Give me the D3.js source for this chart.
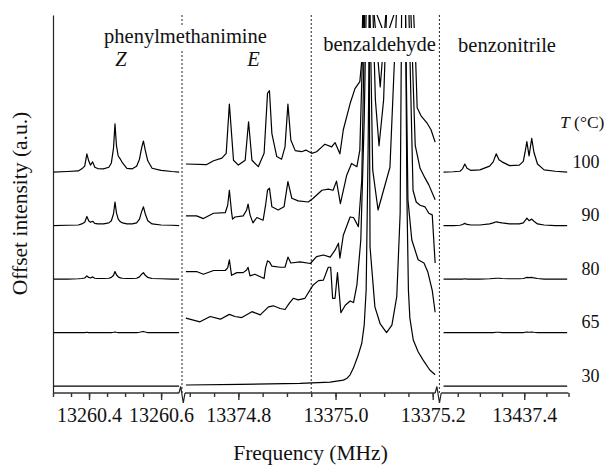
<!DOCTYPE html>
<html><head><meta charset="utf-8">
<script src="https://cdn.jsdelivr.net/npm/d3@7"></script>
<style>
html,body{margin:0;padding:0;background:#fff;}
svg{display:block;}
svg text{font-family:"Liberation Serif","DejaVu Serif","Times New Roman",serif;}
</style></head><body>
<svg id="chart" width="605" height="467" font-family="Liberation Serif, DejaVu Serif, serif"></svg>
<script>
// ---------------- DATA ----------------
const temperatures = [30, 65, 80, 90, 100];
const offsets = [0, 1, 2, 3, 4];

// Segment 1: phenylmethanimine Z (frequency grid, MHz)
const zFreq = [13260.300,13260.340,13260.370,13260.380,13260.388,13260.394,13260.399,13260.404,13260.410,13260.416,13260.424,13260.440,13260.455,13260.462,13260.468,13260.472,13260.476,13260.481,13260.487,13260.493,13260.505,13260.520,13260.532,13260.540,13260.546,13260.551,13260.556,13260.563,13260.575,13260.600,13260.630,13260.650];
const z100 = [0,0.01,0.02,0.06,0.11,0.34,0.21,0.13,0.19,0.09,0.065,0.06,0.09,0.17,0.45,0.90,0.50,0.30,0.24,0.17,0.07,0.06,0.11,0.24,0.45,0.58,0.41,0.21,0.07,0.03,0.01,0];
const z90  = [0,0.005,0.01,0.03,0.06,0.17,0.09,0.06,0.08,0.04,0.03,0.03,0.05,0.09,0.22,0.44,0.24,0.12,0.07,0.05,0.03,0.03,0.05,0.12,0.26,0.35,0.22,0.09,0.03,0.01,0.005,0];
const z80  = [0,0,0.005,0.01,0.02,0.06,0.03,0.02,0.04,0.015,0.01,0.01,0.015,0.03,0.07,0.14,0.08,0.04,0.02,0.015,0.01,0.01,0.015,0.04,0.09,0.12,0.07,0.03,0.01,0.005,0,0];
const z65  = [0,0,0,0,0,0.005,0,0,0,0,0,0,0,0,0.005,0.01,0.005,0,0,0,0,0,0,0.005,0.015,0.02,0.01,0,0,0,0,0];
const z30  = [0,0,0,0,0,0,0,0,0,0,0,0,0,0,0,0,0,0,0,0,0,0,0,0,0,0,0,0,0,0,0,0];

// Segment 2: phenylmethanimine E + benzaldehyde, [frequency, intensity]
const seg2_100 = [[13374.692,0.15],[13374.735,0.14],[13374.749,0.21],[13374.766,0.26],[13374.775,0.35],[13374.7815,1.27],[13374.790,0.22],[13374.800,0.13],[13374.814,0.22],[13374.821,0.94],[13374.828,0.22],[13374.841,0.10],[13374.853,0.35],[13374.860,1.47],[13374.864,1.52],[13374.869,0.72],[13374.879,0.29],[13374.889,0.24],[13374.896,0.47],[13374.902,1.27],[13374.908,0.60],[13374.917,0.40],[13374.930,0.38],[13374.939,0.41],[13374.951,0.35],[13374.961,0.38],[13374.972,0.47],[13374.978,0.52],[13374.992,0.47],[13374.999,0.55],[13375.009,0.34],[13375.016,0.79],[13375.030,1.28],[13375.040,1.56],[13375.050,1.69],[13375.054,2.09],[13375.056,3.0],[13375.063,9],[13375.079,3.0],[13375.092,1.59],[13375.104,3.0],[13375.131,9],[13375.1605,3.0],[13375.165,2.06],[13375.168,1.20],[13375.176,1.05],[13375.188,0.92],[13375.1965,0.79],[13375.205,0.56]];
const seg2_90 = [[13374.692,0.18],[13374.714,0.18],[13374.728,0.13],[13374.749,0.23],[13374.773,0.24],[13374.778,0.38],[13374.7815,0.66],[13374.786,0.25],[13374.788,0.12],[13374.793,0.16],[13374.810,0.18],[13374.817,0.29],[13374.820,0.40],[13374.824,0.20],[13374.830,0.05],[13374.838,0.15],[13374.851,0.10],[13374.856,0.38],[13374.860,0.66],[13374.864,0.70],[13374.869,0.35],[13374.882,0.29],[13374.894,0.35],[13374.902,0.82],[13374.910,0.51],[13374.923,0.46],[13374.944,0.44],[13374.954,0.51],[13374.972,0.66],[13374.985,0.68],[13374.995,0.66],[13375.002,0.83],[13375.010,0.41],[13375.023,0.94],[13375.033,1.16],[13375.044,1.10],[13375.050,1.41],[13375.058,4.0],[13375.064,9],[13375.077,4.0],[13375.082,2.35],[13375.0895,1.49],[13375.099,2.35],[13375.105,4.0],[13375.130,9],[13375.155,4.0],[13375.164,1.50],[13375.174,1.07],[13375.184,0.89],[13375.192,0.76],[13375.205,0.48]];
const seg2_80 = [[13374.692,0.14],[13374.714,0.14],[13374.728,0.09],[13374.749,0.16],[13374.773,0.16],[13374.778,0.21],[13374.7815,0.36],[13374.786,0.07],[13374.797,0.12],[13374.810,0.12],[13374.817,0.17],[13374.820,0.22],[13374.824,0.06],[13374.834,0.09],[13374.853,0.01],[13374.856,0.21],[13374.860,0.34],[13374.864,0.32],[13374.869,0.24],[13374.886,0.22],[13374.896,0.22],[13374.902,0.41],[13374.908,0.30],[13374.927,0.32],[13374.948,0.29],[13374.961,0.42],[13374.975,0.45],[13374.989,0.41],[13374.999,0.54],[13375.006,0.67],[13375.009,0.39],[13375.016,0.82],[13375.030,1.16],[13375.037,1.15],[13375.047,0.98],[13375.054,1.85],[13375.060,5.0],[13375.065,9],[13375.071,5.0],[13375.0765,2.04],[13375.0875,1.29],[13375.112,2.09],[13375.1255,5.0],[13375.137,9],[13375.151,5.0],[13375.1595,1.66],[13375.166,1.44],[13375.174,1.38],[13375.184,1.35],[13375.192,1.23],[13375.199,1.20],[13375.205,0.30]];
const seg2_65 = [[13374.692,0.27],[13374.721,0.20],[13374.742,0.30],[13374.763,0.25],[13374.7815,0.34],[13374.793,0.30],[13374.807,0.28],[13374.828,0.39],[13374.845,0.33],[13374.862,0.48],[13374.872,0.50],[13374.886,0.45],[13374.896,0.43],[13374.905,0.55],[13374.913,0.64],[13374.923,0.61],[13374.937,0.64],[13374.954,0.89],[13374.965,0.97],[13374.975,0.98],[13374.985,1.22],[13374.990,1.22],[13374.994,0.64],[13374.999,0.64],[13375.004,1.12],[13375.011,0.37],[13375.020,0.51],[13375.030,0.59],[13375.037,0.56],[13375.044,0.89],[13375.052,1.73],[13375.059,3.97],[13375.063,6.0],[13375.066,9],[13375.069,6.0],[13375.071,1.60],[13375.081,0.48],[13375.092,0.16],[13375.105,0.0],[13375.116,0.14],[13375.126,0.67],[13375.133,2.23],[13375.136,6.0],[13375.140,9],[13375.144,6.0],[13375.149,2.48],[13375.157,1.73],[13375.170,1.36],[13375.182,1.30],[13375.190,1.13],[13375.199,0.79],[13375.205,0.38]];
const seg2_30 = [[13374.692,0.02],[13374.803,0.03],[13374.927,0.05],[13374.989,0.075],[13375.016,0.11],[13375.023,0.14],[13375.030,0.21],[13375.037,0.34],[13375.046,0.56],[13375.054,0.80],[13375.059,1.14],[13375.063,1.79],[13375.067,4.41],[13375.070,7.03],[13375.075,9],[13375.083,6.99],[13375.104,6.50],[13375.122,6.99],[13375.1345,9],[13375.144,7.03],[13375.147,3.48],[13375.150,1.79],[13375.153,1.27],[13375.160,0.86],[13375.170,0.64],[13375.180,0.49],[13375.194,0.30],[13375.205,0.21]];

// Segment 3: benzonitrile
const nFreq = [13437.218,13437.240,13437.255,13437.261,13437.266,13437.271,13437.280,13437.300,13437.322,13437.330,13437.337,13437.343,13437.350,13437.367,13437.389,13437.398,13437.402,13437.406,13437.411,13437.417,13437.422,13437.430,13437.445,13437.470,13437.497];
const n100 = [0,0.005,0.015,0.06,0.15,0.07,0.03,0.04,0.11,0.19,0.34,0.23,0.19,0.12,0.13,0.20,0.37,0.57,0.30,0.63,0.37,0.15,0.04,0.015,0];
const n90  = [0,0,0.005,0.02,0.04,0.02,0.01,0.01,0.03,0.05,0.07,0.06,0.05,0.03,0.03,0.05,0.09,0.14,0.09,0.12,0.08,0.03,0.01,0,0];
const n80  = [0,0,0,0,0.005,0,0,0,0.005,0.01,0.015,0.015,0.01,0.005,0.005,0.01,0.02,0.03,0.025,0.03,0.02,0.01,0,0,0];
const n65  = [0,0,0,0,0,0,0,0,0,0,0.005,0.005,0,0,0,0,0.005,0.01,0.005,0.01,0.005,0,0,0,0];
const n30  = [0,0,0,0,0,0,0,0,0,0,0,0,0,0,0,0,0,0,0,0,0,0,0,0,0];

// Axis ticks
const seg1Minor = [13260.30,13260.35,13260.40,13260.45,13260.50,13260.55,13260.60];
const seg1Major = [13260.4,13260.6];
const seg2Minor = [13374.70,13374.75,13374.80,13374.85,13374.90,13374.95,13375.00,13375.05,13375.10,13375.15,13375.20];
const seg2Major = [13374.8,13375.0,13375.2];
const seg3Minor = [13437.25,13437.30,13437.35,13437.40,13437.45,13437.50];
const seg3Major = [13437.4];
const regionDivider = 13374.95;

// ---------------- CHART ----------------
(function () {
const FONT = "Liberation Serif, DejaVu Serif, serif";
const svg = d3.select("#chart");
const topY = 15, axisY = 393;
const x1 = d3.scaleLinear().domain([13260.3, 13260.658]).range([53, 182]);
const x2 = d3.scaleLinear().domain([13374.684, 13375.215]).range([182, 440]);
const x3 = d3.scaleLinear().domain([13437.21, 13437.5]).range([440, 568.5]);
const y = d3.scaleLinear().domain([-0.13, 6.935]).range([axisY, topY]);

svg.append("defs").append("clipPath").attr("id","plotclip")
  .append("rect").attr("x",53).attr("y",topY).attr("width",552).attr("height",axisY-topY);

// dotted dividers
const divXs = [x1.range()[1], x2(regionDivider), x2.range()[1] - 0.6];
svg.append("g").selectAll("line").data(divXs).join("line")
  .attr("x1", d=>d).attr("x2", d=>d).attr("y1", topY).attr("y2", axisY)
  .attr("stroke","#222").attr("stroke-width",1).attr("stroke-dasharray","2,2");

const zSeries = [z30, z65, z80, z90, z100];
const nSeries = [n30, n65, n80, n90, n100];
const eSeries = [seg2_30, seg2_65, seg2_80, seg2_90, seg2_100];

const traces = svg.append("g").attr("clip-path","url(#plotclip)")
  .attr("fill","none").attr("stroke","#000").attr("stroke-width",1.2).attr("stroke-linejoin","round");

temperatures.forEach((t, i) => {
  const off = offsets[i];
  const l1 = d3.line().x(d=>x1(d[0])).y(d=>y(d[1]+off));
  const l2 = d3.line().x(d=>x2(d[0])).y(d=>y(d[1]+off));
  const l3 = d3.line().x(d=>x3(d[0])).y(d=>y(d[1]+off));
  traces.append("path").attr("d", l1(zFreq.map((f,k)=>[f, zSeries[i][k]])));
  traces.append("path").attr("d", l2(eSeries[i]));
  traces.append("path").attr("d", l3(nFreq.map((f,k)=>[f, nSeries[i][k]])));
});

// label backgrounds
svg.append("rect").attr("x",100).attr("y",26).attr("width",172).attr("height",24).attr("fill","#fff");
svg.append("rect").attr("x",320).attr("y",28).attr("width",117.5).attr("height",34).attr("fill","#fff");

// region labels
const lab = svg.append("g").attr("fill","#111").attr("text-anchor","middle").attr("font-family",FONT);
lab.append("text").attr("x",185.5).attr("y",43).attr("font-size",20.5).text("phenylmethanimine");
lab.append("text").attr("x",121).attr("y",66).attr("font-size",20.5).attr("font-style","italic").text("Z");
lab.append("text").attr("x",253.5).attr("y",66).attr("font-size",20.5).attr("font-style","italic").text("E");
lab.append("text").attr("x",379.5).attr("y",51).attr("font-size",20.5).text("benzaldehyde");
lab.append("text").attr("x",507).attr("y",51.5).attr("font-size",20.5).text("benzonitrile");

// temperature labels
const tl = svg.append("text").attr("x",560).attr("y",127.5).attr("font-size",17.5).attr("fill","#111").attr("font-family",FONT);
tl.append("tspan").attr("font-style","italic").text("T");
tl.append("tspan").text(" (°C)");
svg.append("g").attr("font-family",FONT).selectAll("text").data(temperatures).join("text")
  .attr("x",599.5).attr("y",(d,i)=>y(offsets[i]) - 4.5)
  .attr("text-anchor","end").attr("font-size",18).attr("fill","#111")
  .text(d=>d);

// y axis
const ya = svg.append("g").attr("transform","translate(53,0)")
  .call(d3.axisLeft(y).tickValues([]).tickSizeOuter(0));
ya.select(".domain").attr("stroke","#222").attr("stroke-width",1.2);

// x axes
const axisColor = "#333";
function drawAxis(xs, minor, major, lo, hi) {
  const gMin = svg.append("g").attr("transform",`translate(0,${axisY})`)
    .call(d3.axisBottom(xs).tickValues(minor).tickSize(4).tickFormat(""));
  gMin.select(".domain").remove();
  gMin.selectAll("line").attr("stroke",axisColor).attr("stroke-width",1.4);
  const gMaj = svg.append("g").attr("transform",`translate(0,${axisY})`)
    .call(d3.axisBottom(xs).tickValues(major).tickSize(7).tickPadding(8).tickFormat(d3.format(".1f")));
  gMaj.select(".domain").remove();
  gMaj.attr("font-size",20).attr("font-family",FONT);
  gMaj.selectAll("line").attr("stroke",axisColor).attr("stroke-width",1.4);
  gMaj.selectAll("text").attr("font-size",20).attr("font-family",FONT).attr("fill","#111");
  svg.append("line").attr("x1",lo).attr("x2",hi).attr("y1",axisY).attr("y2",axisY)
    .attr("stroke",axisColor).attr("stroke-width",1.6);
}
drawAxis(x1, seg1Minor, seg1Major, x1.range()[0], x1.range()[1]-3);
drawAxis(x2, seg2Minor, seg2Major, x2.range()[0]+3, x2.range()[1]-4.8);
drawAxis(x3, seg3Minor, seg3Major, x3.range()[0]+1.2, x3.range()[1]);

// axis break marks
const breaks = [x1.range()[1], x2.range()[1]-1.8];
svg.append("g").selectAll("path").data(breaks).join("path")
  .attr("d", c => `M${c-3},${axisY} L${c-1.3},${axisY-6.5} L${c+1.3},${axisY+10} L${c+3},${axisY}`)
  .attr("fill","none").attr("stroke","#222").attr("stroke-width",1.2);

// axis titles
svg.append("text").attr("x",310.5).attr("y",460).attr("text-anchor","middle").attr("font-family",FONT)
  .attr("font-size",21.5).attr("fill","#111").text("Frequency (MHz)");
svg.append("text").attr("transform","translate(27,203.5) rotate(-90)").attr("text-anchor","middle").attr("font-family",FONT)
  .attr("font-size",21.5).attr("fill","#111").text("Offset intensity (a.u.)");
})();
</script>
</body></html>
